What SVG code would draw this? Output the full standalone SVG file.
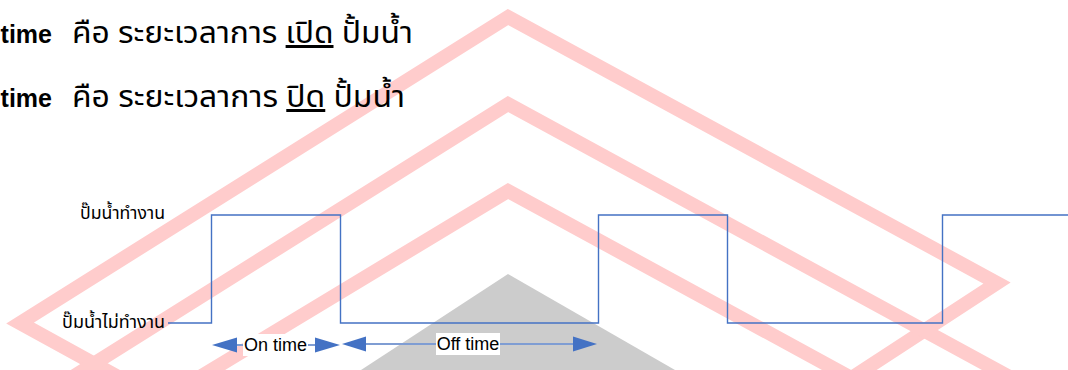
<svg xmlns="http://www.w3.org/2000/svg" width="1068" height="370" viewBox="0 0 1068 370">
<style>
.wm{fill:none;stroke:#FFCCCC;stroke-width:14;stroke-linejoin:miter}
.wave{fill:none;stroke:#4472C4;stroke-width:1.4}
.th{font-family:"Noto Sans Thai","Noto Sans","DejaVu Sans",sans-serif;fill:#000}
.en{font-family:"Liberation Sans",Arial,sans-serif;fill:#000}
.dim{stroke:#7F9DD3;stroke-width:2}
.ah{fill:#4472C4}
</style>
<rect width="1068" height="370" fill="#fff"/>
<g id="watermark">
<polyline class="wm" points="120,378 20,323 508,17 997,283 850,379"/>
<polyline class="wm" points="68,380 508,104 1015,380"/>
<polyline class="wm" points="195,380 508,191 855,380"/>
<polygon points="508,274 361,370 675,370" fill="#CCCCCC"/>
</g>
<g id="title1">
<text class="en" x="52" y="43" font-size="25" font-weight="bold" text-anchor="end">time</text>
<text class="th" x="72" y="43" font-size="30" textLength="341" lengthAdjust="spacingAndGlyphs">คือ ระยะเวลาการ <tspan text-decoration="underline">เปิด</tspan> ปั้มน้ำ</text>
</g>
<g id="title2">
<text class="en" x="52" y="107" font-size="25" font-weight="bold" text-anchor="end">time</text>
<text class="th" x="72" y="107" font-size="30" textLength="333" lengthAdjust="spacingAndGlyphs">คือ ระยะเวลาการ <tspan text-decoration="underline">ปิด</tspan> ปั้มน้ำ</text>
</g>
<g id="label-on">
<text class="th" x="165" y="219" font-size="17.5" text-anchor="end" textLength="85" lengthAdjust="spacingAndGlyphs">ปั๊มน้ำทำงาน</text>
</g>
<g id="label-off">
<text class="th" x="165" y="328" font-size="17.5" text-anchor="end" textLength="103" lengthAdjust="spacingAndGlyphs">ปั๊มน้ำไม่ทำงาน</text>
</g>
<g id="connectors">
<polyline class="wave" points="168,323 211.5,323 211.5,215 340.5,215 340.5,323 598.5,323 598.5,215 727.5,215 727.5,323 942.5,323 942.5,215 1068,215"/>
<line class="dim" x1="236" y1="345" x2="316" y2="345"/>
<polygon class="ah" points="212,345 237,337.5 237,352.5"/>
<polygon class="ah" points="340,345 315,337.5 315,352.5"/>
<line class="dim" x1="365" y1="344" x2="574" y2="344"/>
<polygon class="ah" points="342,344 366,336.5 366,351.5"/>
<polygon class="ah" points="597,344 573,336.5 573,351.5"/>
</g>
<g id="dim-on">
<rect x="243" y="334" width="65" height="22" fill="#fff"/>
<text class="en" x="275.5" y="351" font-size="18" text-anchor="middle">On time</text>
</g>
<g id="dim-off">
<rect x="436" y="333" width="64" height="22" fill="#fff"/>
<text class="en" x="468" y="350" font-size="18" text-anchor="middle">Off time</text>
</g>
</svg>
